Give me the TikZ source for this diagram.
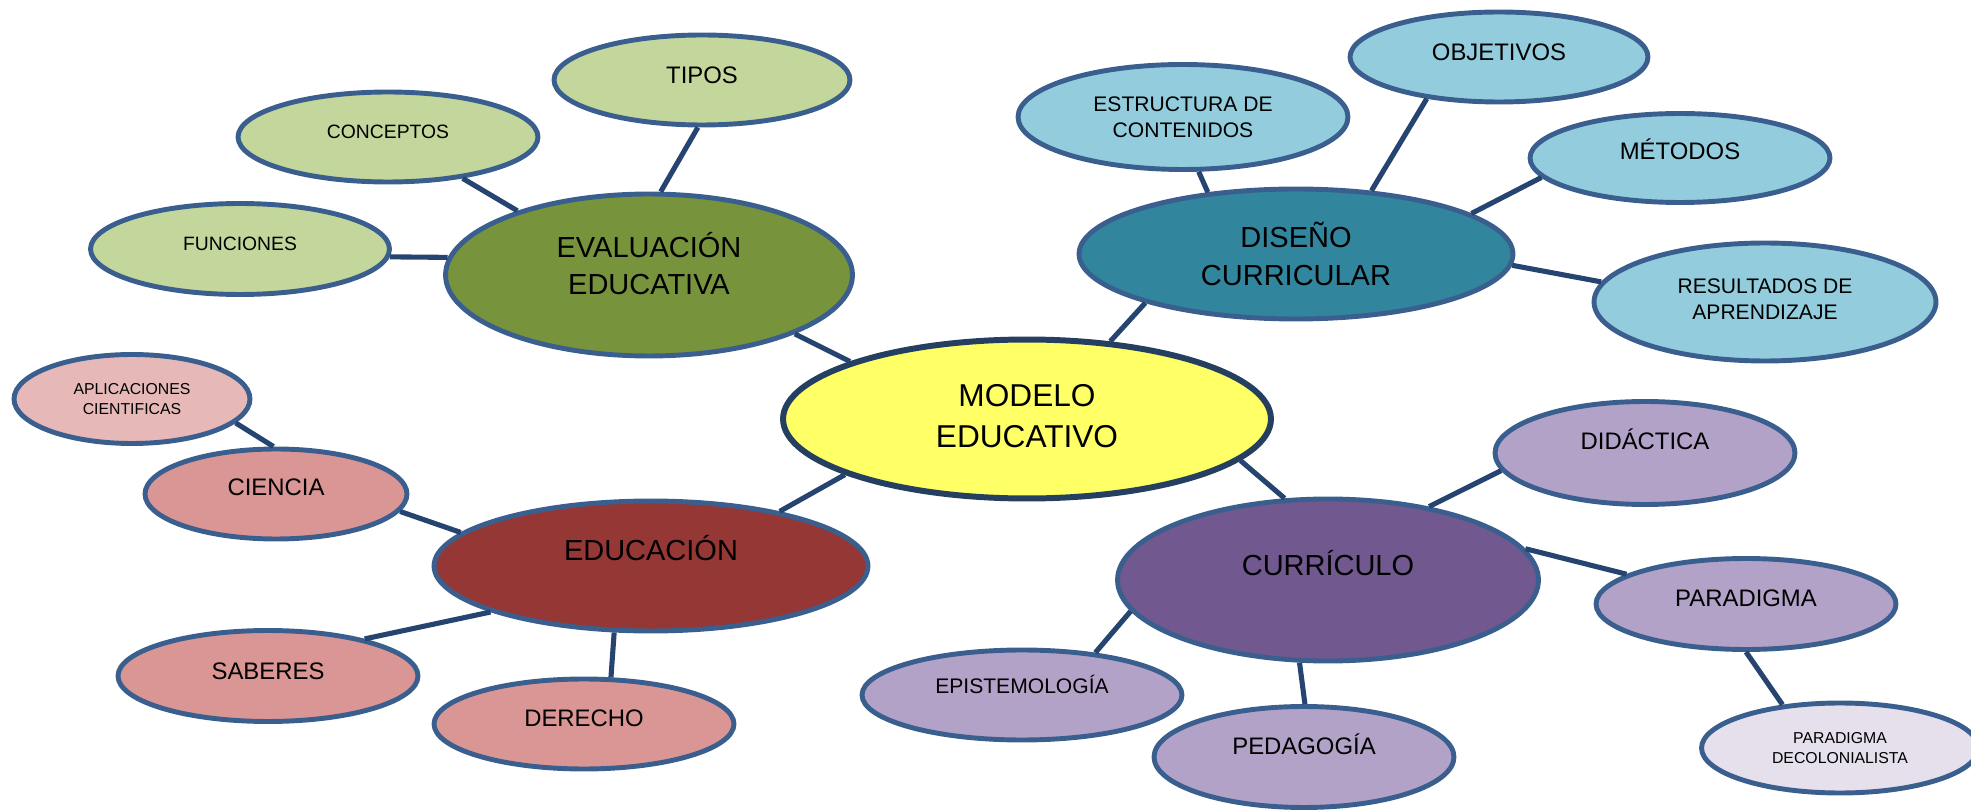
\documentclass[tikz,border=0pt]{standalone}
\usepackage{fontspec}
\setmainfont{Liberation Sans}
\usetikzlibrary{shapes.geometric}
\definecolor{borde}{HTML}{3A5F8E}
\definecolor{bordem}{HTML}{243F60}
\definecolor{rama}{HTML}{264470}
\definecolor{verdec}{HTML}{C3D69B}
\definecolor{verde}{HTML}{77933C}
\definecolor{azulc}{HTML}{93CDDD}
\definecolor{azul}{HTML}{31859C}
\definecolor{amarillo}{HTML}{FFFF66}
\definecolor{rojo}{HTML}{953735}
\definecolor{rosa}{HTML}{D99694}
\definecolor{rosac}{HTML}{E6B9B8}
\definecolor{morado}{HTML}{71588F}
\definecolor{lila}{HTML}{B3A2C7}
\definecolor{lilac}{HTML}{E5E0EC}
\tikzstyle{burbuja} = [ellipse, draw=borde, line width=2.8pt, inner sep=1pt, align=center, text=black]
\tikzstyle{rama} = [draw=rama, line width=2.9pt]
\newcommand{\fhoja}{\fontsize{13.6}{16}\selectfont}
\newcommand{\fmed}{\fontsize{12}{14.8}\selectfont}
\newcommand{\fchica}{\fontsize{9}{11.5}\selectfont}
\newcommand{\fhub}{\fontsize{16.5}{21.5}\selectfont}

\begin{document}
\begin{tikzpicture}[x=0.02cm, y=-0.02cm,%
	sz/.style 2 args={minimum width=#1cm, minimum height=#2cm},%
	lift/.style={text depth=#1cm}]%
	\useasboundingbox (0,0) rectangle (1971,810);%
	\clip (0,0) rectangle (1971,810);%
	% centro
	\node [burbuja, fill=amarillo, draw=bordem, line width=3.4pt, sz={9.76}{3.18}, lift=0.12, font=\fontsize{18}{23.8}\selectfont] (modelo) at (1027,419) {MODELO\\EDUCATIVO};%
	% evaluacion educativa
	\node [burbuja, fill=verde, sz={8.14}{3.24}, lift=0.46, font=\fhub] (evaluacion) at (649,275) {EVALUACIÓN\\EDUCATIVA};%
	\node [burbuja, fill=verdec, sz={5.92}{1.8}, lift=0.2, font=\fhoja] (tipos) at (702,80) {TIPOS};%
	\node [burbuja, fill=verdec, sz={6}{1.8}, lift=0.2, font=\fontsize{11}{13}\selectfont] (conceptos) at (388,137) {CONCEPTOS};%
	\node [burbuja, fill=verdec, sz={5.98}{1.82}, lift=0.2, font=\fontsize{11}{13}\selectfont] (funciones) at (240,249) {FUNCIONES};%
	% diseno curricular
	\node [burbuja, fill=azul, sz={8.68}{2.6}, font=\fhub] (diseno) at (1296,254) {DISEÑO\\CURRICULAR};%
	\node [burbuja, fill=azulc, sz={6.6}{2.1}, font=\fmed] (estructura) at (1183,117) {ESTRUCTURA DE\\CONTENIDOS};%
	\node [burbuja, fill=azulc, sz={5.96}{1.8}, lift=0.2, font=\fhoja] (objetivos) at (1499,57) {OBJETIVOS};%
	\node [burbuja, fill=azulc, sz={6}{1.78}, lift=0.34, font=\fhoja] (metodos) at (1680,158) {MÉTODOS};%
	\node [burbuja, fill=azulc, sz={6.84}{2.36}, lift=0.12, font=\fmed] (resultados) at (1765,302) {RESULTADOS DE\\APRENDIZAJE};%
	% educacion
	\node [burbuja, fill=rojo, sz={8.68}{2.6}, lift=0.74, font=\fhub] (educacion) at (651,566) {EDUCACIÓN};%
	\node [burbuja, fill=rosa, sz={5.24}{1.8}, lift=0.28, font=\fhoja] (ciencia) at (276,494) {CIENCIA};%
	\node [burbuja, fill=rosac, sz={4.72}{1.78}, font=\fchica] (aplicaciones) at (132,399) {APLICACIONES\\CIENTIFICAS};%
	\node [burbuja, fill=rosa, sz={6}{1.82}, lift=0.2, font=\fhoja] (saberes) at (268,676) {SABERES};%
	\node [burbuja, fill=rosa, sz={6}{1.8}, lift=0.24, font=\fhoja] (derecho) at (584,724) {DERECHO};%
	% curriculo
	\node [burbuja, fill=morado, sz={8.42}{3.24}, lift=0.7, font=\fhub] (curriculo) at (1328,580) {CURRÍCULO};%
	\node [burbuja, fill=lila, sz={6}{2.06}, lift=0.54, font=\fhoja] (didactica) at (1645,453) {DIDÁCTICA};%
	\node [burbuja, fill=lila, sz={6}{1.82}, lift=0.24, font=\fhoja] (paradigma) at (1746,604) {PARADIGMA};%
	\node [burbuja, fill=lilac, sz={5.54}{1.8}, font=\fchica] (decolonial) at (1840,748) {PARADIGMA\\DECOLONIALISTA};%
	\node [burbuja, fill=lila, sz={6}{2.02}, lift=0.5, font=\fhoja] (pedagogia) at (1304,757) {PEDAGOGÍA};%
	\node [burbuja, fill=lila, sz={6.4}{1.8}, lift=0.42, font=\fmed] (epistemologia) at (1022,695) {EPISTEMOLOGÍA};%
	% ramas
	\draw [rama] (evaluacion.-22.5) -- (modelo.162.6);%
	\draw [rama] (conceptos.-29.7) -- (evaluacion.154.8);%
	\draw [rama] (tipos.265) -- (evaluacion.82);%
	\draw [rama] (funciones.-3.4) -- (evaluacion.175);%
	\draw [rama] (diseno.198) -- (modelo.43.6);%
	\draw [rama] (estructura.-74) -- (diseno.145.9);%
	\draw [rama] (objetivos.210.8) -- (diseno.40.5);%
	\draw [rama] (metodos.188) -- (diseno.13.2);%
	\draw [rama] (diseno.-3.4) -- (resultados.173.1);%
	\draw [rama] (educacion.23.6) -- (modelo.197.3);%
	\draw [rama] (aplicaciones.-13.4) -- (ciencia.93.7);%
	\draw [rama] (ciencia.-8.6) -- (educacion.170.3);%
	\draw [rama] (educacion.196.6) -- (saberes.21.4);%
	\draw [rama] (educacion.241.5) -- (derecho.60.5);%
	\draw [rama] (modelo.-11.4) -- (curriculo.118.2);%
	\draw [rama] (curriculo.36.9) -- (didactica.187.5);%
	\draw [rama] (curriculo.9.6) -- (paradigma.166);%
	\draw [rama] (paradigma.270) -- (decolonial.143.9);%
	\draw [rama] (curriculo.189.1) -- (epistemologia.30.2);%
	\draw [rama] (curriculo.251.3) -- (pedagogia.89);%
\end{tikzpicture}
\end{document}
